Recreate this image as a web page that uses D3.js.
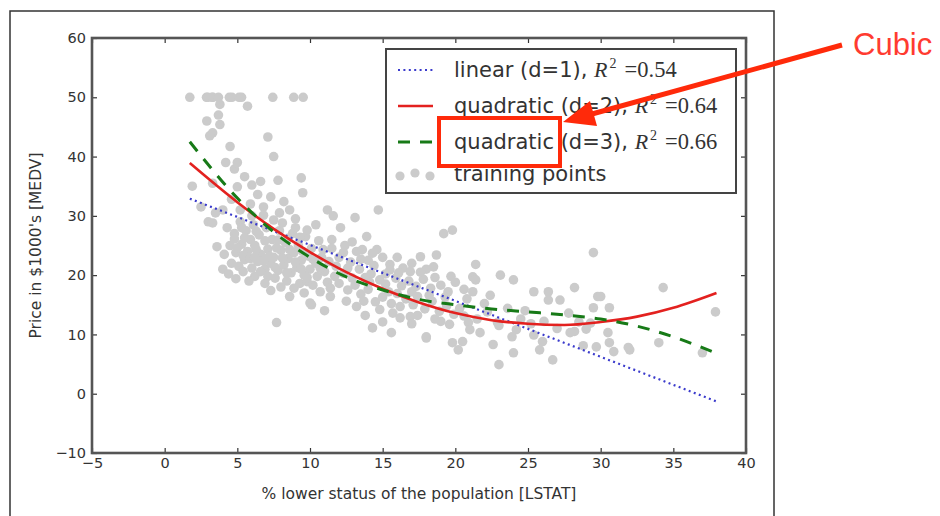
<!DOCTYPE html>
<html>
<head>
<meta charset="utf-8">
<script src="https://cdn.jsdelivr.net/npm/d3@7/dist/d3.min.js"></script>
<style>
  body { margin: 0; background: #fff; }
  svg { display: block; }
</style>
</head>
<body>
<div id="chart"></div>
<script>
// axis ticks
var xTicks = [-5, 0, 5, 10, 15, 20, 25, 30, 35, 40];
var yTicks = [-10, 0, 10, 20, 30, 40, 50, 60];

// fitted curves: [LSTAT, MEDV]
var linearFit = [[1.73, 32.9], [37.97, -1.3]];
var quadraticFit = [[1.73, 38.9], [5, 32.3], [7.5, 27.8], [10, 23.9], [12.5, 20.5], [15, 17.7],
  [17.5, 15.4], [20, 13.6], [22.5, 12.4], [25, 11.8], [27.5, 11.6], [30, 12.1], [32.5, 13.0],
  [35, 14.5], [37.97, 17.0]];
var cubicFit = [[1.73, 42.5], [5, 33.0], [7.5, 27.3], [10, 23.0], [12.5, 19.7], [15, 17.5],
  [17.5, 15.9], [20, 15.0], [22.5, 14.3], [25, 13.8], [27.5, 13.3], [30, 12.6], [32.5, 11.4],
  [35, 9.6], [37.97, 6.8]];

var legendLabels = ["linear (d=1), ", "quadratic (d=2), ", "quadratic (d=3), ", "training points"];
var r2Values = ["0.54", "0.64", "0.66"];

// training points [LSTAT, MEDV]
var trainingPoints = [
  [1.73,50],[2.88,50],[2.97,50],[3.26,50],[3.32,50],[3.7,50],[4.45,50],[4.63,50],[5.12,50],[5.29,50],
  [7.44,50],[8.88,50],[9.53,50],[5.7,48.5],[3.8,48.8],[3.7,47],[2.9,46],[3.8,45.4],[3.3,44],[3.1,43.5],
  [4.5,41.7],[7.1,43.3],[7.5,40],[9.4,36.4],[9.5,33.9],[7.8,36],[3.3,35.5],[1.9,35],[4.2,39],[4.8,37.9],
  [5.0,39],[5.5,36.6],[6.0,35.2],[6.6,35.8],[5.0,34.9],[6.4,33.6],[4.6,32.8],[5.9,32],[6.8,31.5],[7.3,33.2],
  [8.2,32.4],[7.9,30.5],[8.6,31],[9.0,29.5],[2.5,31.5],[3.5,30.5],[3.0,29],[4.0,31],[3.6,24.8],[3.3,28.8],
  [4.3,28],[4.8,27],[5.2,29],[5.6,27.5],[6.1,28.5],[6.5,26.8],[7.0,28],[7.4,26],[7.9,27.5],[8.3,25.5],
  [8.8,27],[9.2,25],[9.7,26.5],[10.1,24.5],[10.6,25.8],[4.5,25],[4.9,23.8],[5.3,25.2],[5.7,24],[6.2,25],
  [6.6,23.5],[7.1,24.4],[7.5,23],[8.0,24.2],[8.5,22.8],[8.9,23.8],[9.4,22.5],[9.9,23.2],[10.4,22],[10.8,23],
  [4.6,22],[5.1,21.5],[5.5,22.6],[6.0,21.2],[6.4,22.3],[6.9,21],[7.3,22],[7.8,20.8],[8.2,21.7],[8.7,20.4],
  [9.1,21.3],[9.6,20],[10.0,21],[10.5,19.8],[11.0,20.6],[5.4,20.6],[6.6,20.6],[7.6,19.5],[8.4,19],[9.3,18.6],
  [10.2,18.3],[11.2,18.8],[8.0,18],[7.1,19.8],[6.2,19.8],[4.1,23.5],[4.0,21],[5.9,26],[6.8,30.1],[7.5,29.3],
  [8.1,28.8],[9.0,28],[9.8,27.6],[10.4,28.5],[5.2,31],[6.0,30],[11.2,31],[11.6,30],[13.1,29.7],[14.7,31],
  [12.1,28],[13.9,26.5],[8.6,16.4],[10.1,15],[7.7,12],[10.0,15.3],[11.4,16.4],[9.6,17],
  [4.4,20.2],[4.9,19.4],[5.8,19.0],[6.9,18.6],[7.3,17.4],[8.9,17.8],[9.8,18.9],[10.7,17.2],[5.0,24.6],[5.4,23.3],
  [5.9,22.8],[6.3,24.3],[6.8,22.4],[7.2,23.2],[7.7,24.6],[7.6,21.3],[8.1,22.9],[8.6,24.3],[9.0,22.2],[9.5,24.0],
  [9.4,21.0],[10.2,22.7],[10.7,21.2],[11.3,22.3],[11.7,19.8],[8.5,26.2],[9.3,26.4],[6.9,25.8],[7.8,25.9],[6.3,27.4],
  [5.5,26.3],[4.8,26.1],[5.3,28.0],[6.2,23.0],[8.4,20.4],[9.8,19.6],[10.9,24.3],[11.5,26.0],
  [11.5,24.5],[12.0,23],[12.4,25],[12.8,22.2],[13.2,24],[13.6,24.3],[14.0,22.5],[14.6,24.3],[15.0,23],[15.5,21.8],
  [16.0,23],[16.4,21.2],[17.0,22],[17.6,23.1],[18.0,21],[18.7,23.4],[19.2,27],[19.8,27.6],[18.5,21.4],[18.6,19.6],
  [15.5,20.9],[14.3,23.7],[11.8,21.5],[12.3,20.3],[12.9,19.5],[13.4,21],[13.8,19.6],[14.2,20.2],[14.8,19.2],[15.2,18.5],
  [15.9,19.5],[16.3,18.2],[16.8,19],[17.3,18.1],[17.8,19.3],[18.3,17.8],[19.0,18.3],[19.5,17.2],[20.0,18.8],
  [12.3,23.8],[12.9,25.6],[13.5,22.7],[14.4,21.6],[15.2,20.2],[16.1,20.4],[16.9,20.6],[17.6,20.5],[12.6,21.2],[13.1,18.3],
  [14.1,18.8],[15.4,17.2],[16.0,16.9],[17.0,17.2],[18.2,16.6],[19.3,16.3],[19.7,19.8],[20.6,17.6],
  [11.4,17.8],[12.0,18.6],[12.6,17.5],[13.2,14.7],[13.5,16.8],[14.0,17.6],[14.5,15.5],[15.0,16.3],[15.6,15.2],[16.2,14.7],
  [16.6,16.0],[17.1,15.0],[17.4,16.4],[17.9,14.3],[18.4,15.6],[18.9,13.9],[19.4,14.8],[19.9,13.4],[20.3,14.4],
  [13.7,15.6],[14.8,14.2],[15.7,13.6],[17.4,13.2],[18.6,12.6],[19.6,11.7],[20.9,12.0],
  [14.3,11.1],[15.6,10.3],[15.0,12.1],[18.0,9.4],[16.9,13],[19.8,8.6],[20.2,7.4],[18.0,9.6],[17.0,11.8],[19.0,12.2],
  [16.2,12.8],[13.8,13.2],[12.5,15.6],[11.0,14.0],
  [21.4,21.8],[21.2,19.7],[21.4,19.2],[21.2,17.2],[23.1,20],[24,19.2],[25.4,17.2],[26.4,17.2],[26.4,15.8],[27.2,15.8],
  [28.2,17.9],[29.5,23.8],[29.8,16.4],[29.5,14.5],[20.5,8.8],[22.6,8.3],[24,6.9],[23,4.9],[25.8,7.4],[26.7,5.7],
  [28.2,10.5],[23.9,9.6],[21,10.8],[21.7,10.3],[22.9,12],[24.2,10.8],[25.4,9.9],[27.9,10.3],[20.6,13.1],[21.5,12.6],
  [22.2,13.8],[23.0,11.5],[24.5,12.6],[25.2,11.8],[26.1,12.2],[27.0,11.0],[28.5,12.1],[29.0,10.9],[22.0,15.2],[23.6,14.4],
  [24.8,14.0],[20.8,16.0],[22.4,16.6],[27.8,13.6],[26.0,8.8],[28.8,8.1],[29.7,7.9],[30.6,14.5],[30.5,10.3],[30.6,8.6],
  [30.9,7.1],[32,7.4],[31.9,7.8],[34,8.6],[34.3,17.9],[37.9,13.8],[37,6.9],[30.0,16.4],[29.3,11.9]
];

var width = 940, height = 516;
var plot = {left: 92, right: 746, top: 38, bottom: 453};
var font = "'DejaVu Sans', sans-serif";
var serif = "'Liberation Serif', 'DejaVu Serif', serif";

var svg = d3.select("#chart").append("svg")
  .attr("width", width)
  .attr("height", height);

svg.append("rect")
  .attr("width", width).attr("height", height)
  .attr("fill", "#fff");

// outer figure frame
svg.append("rect")
  .attr("x", 10).attr("y", 11)
  .attr("width", 764).attr("height", 530)
  .attr("fill", "none")
  .attr("stroke", "#333")
  .attr("stroke-width", 1.5);

var x = d3.scaleLinear().domain([-5, 40]).range([plot.left, plot.right]);
var y = d3.scaleLinear().domain([-10, 60]).range([plot.bottom, plot.top]);

// scatter
svg.append("g").selectAll("circle")
  .data(trainingPoints)
  .enter().append("circle")
  .attr("cx", function(d) { return x(d[0]); })
  .attr("cy", function(d) { return y(d[1]); })
  .attr("r", 4.8)
  .attr("fill", "#cbcbcb");

var line = d3.line()
  .x(function(d) { return x(d[0]); })
  .y(function(d) { return y(d[1]); });

var styles = [
  {color: "#3b3bcc", width: 2.2, dash: "2,3.4"},
  {color: "#e3211f", width: 2.6, dash: null},
  {color: "#177a17", width: 3, dash: "12,10"}
];

svg.append("path").datum(linearFit)
  .attr("d", line)
  .attr("fill", "none")
  .attr("stroke", styles[0].color)
  .attr("stroke-width", styles[0].width)
  .attr("stroke-dasharray", styles[0].dash);

svg.append("path").datum(quadraticFit)
  .attr("d", line.curve(d3.curveMonotoneX))
  .attr("fill", "none")
  .attr("stroke", styles[1].color)
  .attr("stroke-width", styles[1].width);

svg.append("path").datum(cubicFit)
  .attr("d", line.curve(d3.curveMonotoneX))
  .attr("fill", "none")
  .attr("stroke", styles[2].color)
  .attr("stroke-width", styles[2].width)
  .attr("stroke-dasharray", styles[2].dash);

// axes, ticks inside on every side
function styleAxis(g) {
  g.select(".domain").remove();
  g.selectAll(".tick line").attr("stroke", "#333").attr("stroke-width", 1.2);
  g.selectAll(".tick text")
    .attr("fill", "#333")
    .style("font-family", font)
    .style("font-size", "14.5px");
}

svg.append("g")
  .attr("transform", "translate(0," + plot.bottom + ")")
  .call(d3.axisBottom(x).tickValues(xTicks).tickSizeInner(-5).tickSizeOuter(0).tickPadding(5))
  .call(styleAxis);

svg.append("g")
  .attr("transform", "translate(0," + plot.top + ")")
  .call(d3.axisTop(x).tickValues(xTicks).tickSizeInner(-5).tickSizeOuter(0).tickFormat(""))
  .call(styleAxis);

svg.append("g")
  .attr("transform", "translate(" + plot.left + ",0)")
  .call(d3.axisLeft(y).tickValues(yTicks).tickSizeInner(-5).tickSizeOuter(0).tickPadding(6))
  .call(styleAxis);

svg.append("g")
  .attr("transform", "translate(" + plot.right + ",0)")
  .call(d3.axisRight(y).tickValues(yTicks).tickSizeInner(-5).tickSizeOuter(0).tickFormat(""))
  .call(styleAxis);

// plot frame
svg.append("rect")
  .attr("x", plot.left).attr("y", plot.top)
  .attr("width", plot.right - plot.left)
  .attr("height", plot.bottom - plot.top)
  .attr("fill", "none")
  .attr("stroke", "#555")
  .attr("stroke-width", 2.6);

// axis titles
svg.append("text")
  .attr("x", (plot.left + plot.right) / 2)
  .attr("y", 499)
  .attr("text-anchor", "middle")
  .attr("fill", "#333")
  .style("font-family", font)
  .style("font-size", "15.5px")
  .text("% lower status of the population [LSTAT]");

svg.append("text")
  .attr("transform", "translate(41," + (plot.top + plot.bottom) / 2 + ") rotate(-90)")
  .attr("text-anchor", "middle")
  .attr("fill", "#333")
  .style("font-family", font)
  .style("font-size", "15.5px")
  .text("Price in $1000's [MEDV]");

// legend
var legend = svg.append("g");
legend.append("rect")
  .attr("x", 386).attr("y", 49)
  .attr("width", 350).attr("height", 144)
  .attr("fill", "#fff")
  .attr("stroke", "#444")
  .attr("stroke-width", 2);

var rowY = [70, 106, 142, 174];
styles.forEach(function(s, i) {
  legend.append("line")
    .attr("x1", 398).attr("x2", 433)
    .attr("y1", rowY[i]).attr("y2", rowY[i])
    .attr("stroke", s.color)
    .attr("stroke-width", s.width)
    .attr("stroke-dasharray", s.dash);
});
[[400, 2], [415, -1], [430, 2]].forEach(function(p) {
  legend.append("circle")
    .attr("cx", p[0]).attr("cy", rowY[3] + p[1])
    .attr("r", 4.6)
    .attr("fill", "#cbcbcb");
});

legendLabels.forEach(function(label, i) {
  var t = legend.append("text")
    .attr("x", 454)
    .attr("y", rowY[i] + 7)
    .attr("fill", "#333")
    .style("font-family", font)
    .style("font-size", "21px");
  t.append("tspan").text(label);
  if (i < 3) {
    t.append("tspan").style("font-family", serif).style("font-style", "italic").style("font-size", "22px").text("R");
    t.append("tspan").style("font-family", serif).style("font-size", "14px")
      .attr("dx", 2).attr("dy", -9).text("2");
    t.append("tspan").style("font-family", serif).style("font-size", "22.5px")
      .attr("dx", 8).attr("dy", 9).text("=" + r2Values[i]);
  }
});

// annotation
var red = "#ff2a0a";
svg.append("rect")
  .attr("x", 439).attr("y", 118)
  .attr("width", 121).attr("height", 48)
  .attr("fill", "none")
  .attr("stroke", red)
  .attr("stroke-width", 4);

svg.append("line")
  .attr("x1", 842).attr("y1", 45)
  .attr("x2", 592).attr("y2", 114)
  .attr("stroke", red)
  .attr("stroke-width", 5);

svg.append("path")
  .attr("d", "M563,122 L590,101 L597,126 Z")
  .attr("fill", red);

svg.append("text")
  .attr("x", 853).attr("y", 55)
  .attr("fill", "#ff3b30")
  .style("font-family", "'Liberation Sans', Arial, sans-serif")
  .style("font-size", "31px")
  .text("Cubic");
</script>
</body>
</html>
